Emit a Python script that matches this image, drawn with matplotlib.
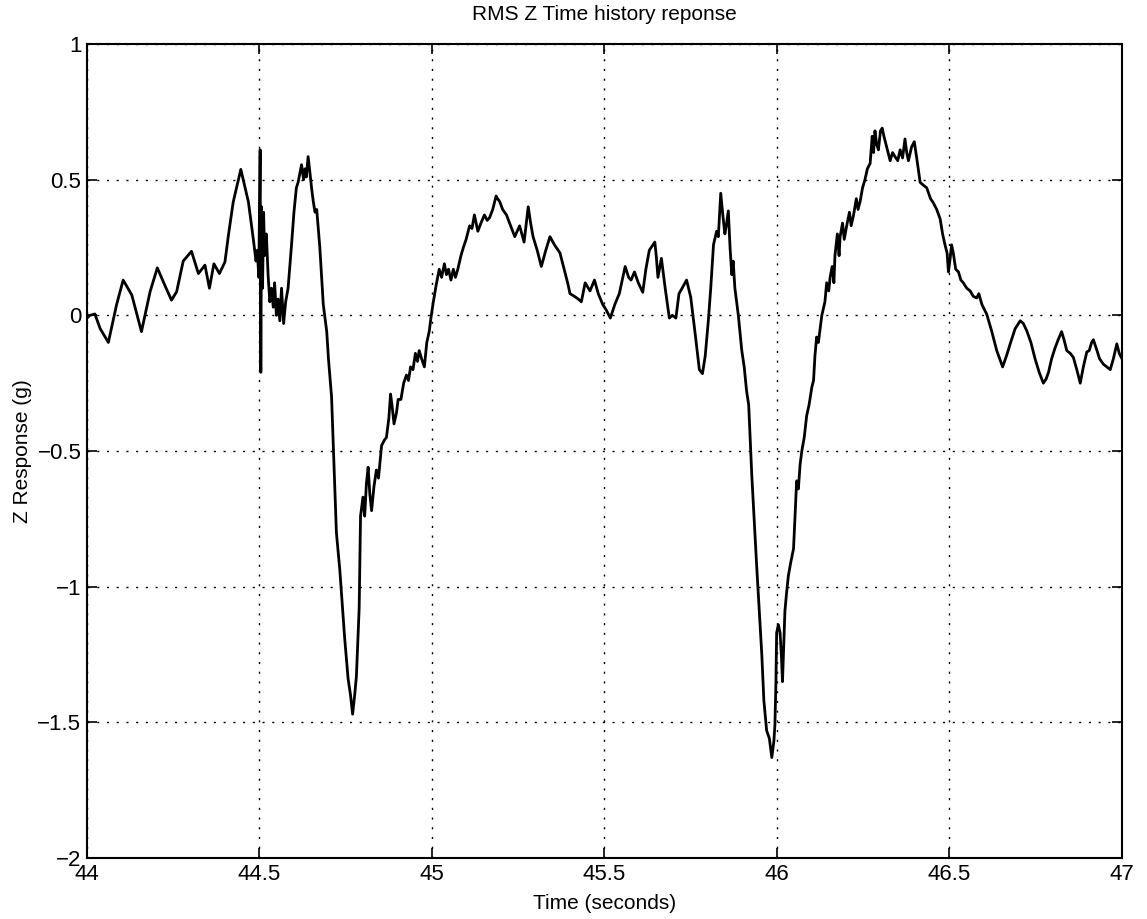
import numpy as np
import matplotlib
matplotlib.use("Agg")
import matplotlib.pyplot as plt

plt.rcParams['font.family'] = ['Liberation Sans', 'DejaVu Sans']

# (time in seconds, response in g)
time_s = [
    44.000, 44.009, 44.023, 44.038, 44.062, 44.086, 44.105, 44.130, 44.158, 44.183,
    44.204, 44.226, 44.245, 44.260, 44.279, 44.303, 44.323, 44.342, 44.355, 44.368,
    44.384, 44.400, 44.410, 44.424, 44.446, 44.468, 44.482, 44.490, 44.494, 44.498,
    44.502, 44.504, 44.506, 44.509, 44.512, 44.515, 44.520, 44.525, 44.530, 44.535,
    44.540, 44.544, 44.549, 44.554, 44.559, 44.564, 44.570, 44.576, 44.583, 44.593,
    44.600, 44.607, 44.612, 44.622, 44.628, 44.632, 44.636, 44.641, 44.646, 44.651,
    44.656, 44.661, 44.666, 44.675, 44.685, 44.695, 44.700, 44.709, 44.714, 44.723,
    44.733, 44.747, 44.757, 44.764, 44.770, 44.776, 44.781, 44.789, 44.793, 44.797,
    44.800, 44.805, 44.810, 44.815, 44.820, 44.825, 44.832, 44.839, 44.845, 44.854,
    44.862, 44.868, 44.875, 44.880, 44.885, 44.890, 44.897, 44.902, 44.910, 44.918,
    44.926, 44.932, 44.938, 44.945, 44.952, 44.958, 44.963, 44.970, 44.978, 44.985,
    44.992, 44.997, 45.004, 45.012, 45.021, 45.028, 45.036, 45.042, 45.048, 45.055,
    45.062, 45.068, 45.075, 45.084, 45.091, 45.099, 45.109, 45.116, 45.123, 45.133,
    45.142, 45.152, 45.160, 45.167, 45.176, 45.186, 45.190, 45.196, 45.205, 45.216,
    45.228, 45.240, 45.254, 45.267, 45.279, 45.286, 45.293, 45.305, 45.317, 45.330,
    45.342, 45.355, 45.371, 45.385, 45.394, 45.400, 45.413, 45.424, 45.433, 45.444,
    45.458, 45.471, 45.482, 45.495, 45.505, 45.517, 45.530, 45.543, 45.560, 45.570,
    45.577, 45.587, 45.598, 45.611, 45.620, 45.630, 45.646, 45.650, 45.655, 45.665,
    45.676, 45.688, 45.697, 45.707, 45.716, 45.725, 45.738, 45.750, 45.764, 45.775,
    45.784, 45.792, 45.801, 45.808, 45.816, 45.825, 45.830, 45.837, 45.843, 45.849,
    45.853, 45.859, 45.864, 45.869, 45.873, 45.878, 45.888, 45.898, 45.905, 45.912,
    45.918, 45.927, 45.941, 45.956, 45.962, 45.970, 45.978, 45.985, 45.991, 45.994,
    45.997, 45.999, 46.004, 46.009, 46.013, 46.016, 46.020, 46.023, 46.028, 46.033,
    46.040, 46.048, 46.053, 46.057, 46.062, 46.067, 46.072, 46.079, 46.086, 46.093,
    46.101, 46.106, 46.110, 46.115, 46.120, 46.125, 46.130, 46.139, 46.144, 46.150,
    46.154, 46.160, 46.165, 46.168, 46.175, 46.180, 46.183, 46.190, 46.195, 46.202,
    46.210, 46.215, 46.222, 46.230, 46.235, 46.241, 46.248, 46.255, 46.262, 46.270,
    46.276, 46.280, 46.284, 46.289, 46.294, 46.300, 46.305, 46.310, 46.318, 46.328,
    46.335, 46.342, 46.350, 46.357, 46.364, 46.371, 46.376, 46.381, 46.390, 46.398,
    46.405, 46.415, 46.424, 46.434, 46.445, 46.453, 46.463, 46.473, 46.480, 46.487,
    46.493, 46.497, 46.502, 46.506, 46.511, 46.518, 46.526, 46.533, 46.540, 46.550,
    46.560, 46.569, 46.579, 46.585, 46.594, 46.608, 46.622, 46.637, 46.654, 46.665,
    46.676, 46.690, 46.705, 46.714, 46.724, 46.736, 46.748, 46.760, 46.772, 46.780,
    46.787, 46.796, 46.806, 46.815, 46.825, 46.832, 46.840, 46.850, 46.859, 46.869,
    46.879, 46.888, 46.898, 46.905, 46.912, 46.917, 46.925, 46.935, 46.946, 46.956,
    46.966, 46.975, 46.985, 46.992, 47.000,
]

z_response = [
    -0.010, 0.000, 0.005, -0.048, -0.100, 0.040, 0.130, 0.075, -0.060, 0.087,
    0.175, 0.110, 0.056, 0.087, 0.200, 0.236, 0.154, 0.185, 0.100, 0.190,
    0.154, 0.197, 0.295, 0.418, 0.538, 0.418, 0.283, 0.200, 0.240, 0.140,
    0.610, -0.210, 0.400, 0.100, 0.380, 0.220, 0.300, 0.150, 0.050, 0.100,
    0.030, 0.120, 0.000, 0.060, -0.020, 0.100, -0.030, 0.050, 0.100, 0.260,
    0.380, 0.470, 0.490, 0.555, 0.500, 0.540, 0.510, 0.585, 0.530, 0.470,
    0.420, 0.380, 0.390, 0.250, 0.040, -0.060, -0.160, -0.300, -0.480, -0.800,
    -0.940, -1.190, -1.340, -1.400, -1.470, -1.400, -1.330, -1.080, -0.740, -0.700,
    -0.670, -0.740, -0.620, -0.560, -0.660, -0.720, -0.630, -0.570, -0.600, -0.480,
    -0.460, -0.450, -0.380, -0.290, -0.340, -0.400, -0.360, -0.310, -0.310, -0.250,
    -0.220, -0.240, -0.190, -0.200, -0.140, -0.170, -0.130, -0.160, -0.190, -0.100,
    -0.060, -0.010, 0.050, 0.110, 0.170, 0.140, 0.190, 0.150, 0.170, 0.130,
    0.170, 0.140, 0.170, 0.220, 0.250, 0.280, 0.330, 0.320, 0.370, 0.310,
    0.340, 0.370, 0.350, 0.360, 0.390, 0.440, 0.430, 0.420, 0.390, 0.370,
    0.330, 0.290, 0.330, 0.270, 0.400, 0.340, 0.290, 0.240, 0.180, 0.240,
    0.290, 0.260, 0.230, 0.160, 0.116, 0.080, 0.070, 0.060, 0.050, 0.120,
    0.090, 0.130, 0.080, 0.040, 0.020, -0.010, 0.040, 0.080, 0.180, 0.140,
    0.130, 0.160, 0.120, 0.085, 0.170, 0.240, 0.270, 0.220, 0.140, 0.210,
    0.100, -0.010, 0.000, -0.010, 0.080, 0.100, 0.130, 0.067, -0.080, -0.200,
    -0.215, -0.150, -0.020, 0.100, 0.260, 0.310, 0.290, 0.450, 0.370, 0.300,
    0.330, 0.385, 0.250, 0.150, 0.200, 0.100, 0.000, -0.130, -0.190, -0.280,
    -0.330, -0.590, -0.920, -1.250, -1.420, -1.530, -1.560, -1.630, -1.570, -1.510,
    -1.350, -1.170, -1.140, -1.170, -1.260, -1.350, -1.200, -1.090, -1.020, -0.960,
    -0.910, -0.860, -0.720, -0.610, -0.640, -0.550, -0.500, -0.450, -0.370, -0.330,
    -0.265, -0.240, -0.150, -0.080, -0.100, -0.050, 0.000, 0.050, 0.120, 0.090,
    0.140, 0.180, 0.120, 0.220, 0.300, 0.220, 0.290, 0.340, 0.280, 0.330,
    0.380, 0.330, 0.370, 0.430, 0.390, 0.420, 0.470, 0.500, 0.540, 0.560,
    0.660, 0.600, 0.680, 0.630, 0.610, 0.680, 0.690, 0.660, 0.620, 0.570,
    0.600, 0.585, 0.570, 0.610, 0.580, 0.650, 0.600, 0.570, 0.620, 0.640,
    0.580, 0.490, 0.480, 0.470, 0.430, 0.415, 0.390, 0.355, 0.300, 0.260,
    0.230, 0.160, 0.210, 0.260, 0.230, 0.170, 0.160, 0.130, 0.120, 0.100,
    0.090, 0.070, 0.064, 0.080, 0.040, 0.004, -0.057, -0.130, -0.190, -0.150,
    -0.105, -0.050, -0.020, -0.030, -0.057, -0.100, -0.160, -0.210, -0.250, -0.235,
    -0.210, -0.160, -0.120, -0.090, -0.060, -0.090, -0.130, -0.140, -0.155, -0.200,
    -0.250, -0.190, -0.135, -0.130, -0.100, -0.090, -0.120, -0.160, -0.180, -0.190,
    -0.200, -0.160, -0.105, -0.140, -0.160,
]

x_ticks = [44, 44.5, 45, 45.5, 46, 46.5, 47]
x_tick_labels = ['44', '44.5', '45', '45.5', '46', '46.5', '47']
y_ticks = [-2, -1.5, -1, -0.5, 0, 0.5, 1]
y_tick_labels = ['\u22122', '\u22121.5', '\u22121', '\u22120.5', '0', '0.5', '1']

fig = plt.figure(figsize=(11.47, 9.19), dpi=100)
ax = fig.add_axes([0.0758, 0.0664, 0.9024, 0.8857])

ax.plot(time_s, z_response, color='black', linewidth=2.0)

ax.set_xlim(44, 47)
ax.set_ylim(-2, 1)
ax.set_xticks(x_ticks)
ax.set_xticklabels(x_tick_labels)
ax.set_yticks(y_ticks)
ax.set_yticklabels(y_tick_labels)

ax.grid(True, color='black', linestyle=(0, (1.5, 5.5)), linewidth=1.0)
ax.tick_params(direction='in', length=7, width=1.2, top=True, right=True,
               labelsize=16, pad=4, colors='black')
for spine in ax.spines.values():
    spine.set_linewidth(1.5)
    spine.set_color('black')

ax.set_title('RMS Z Time history reponse', fontsize=15, pad=17)
ax.set_xlabel('Time (seconds)', fontsize=15, labelpad=7)
ax.set_ylabel('Z Response (g)', fontsize=15, labelpad=4)

fig.savefig('out.png', dpi=100, facecolor='white')
